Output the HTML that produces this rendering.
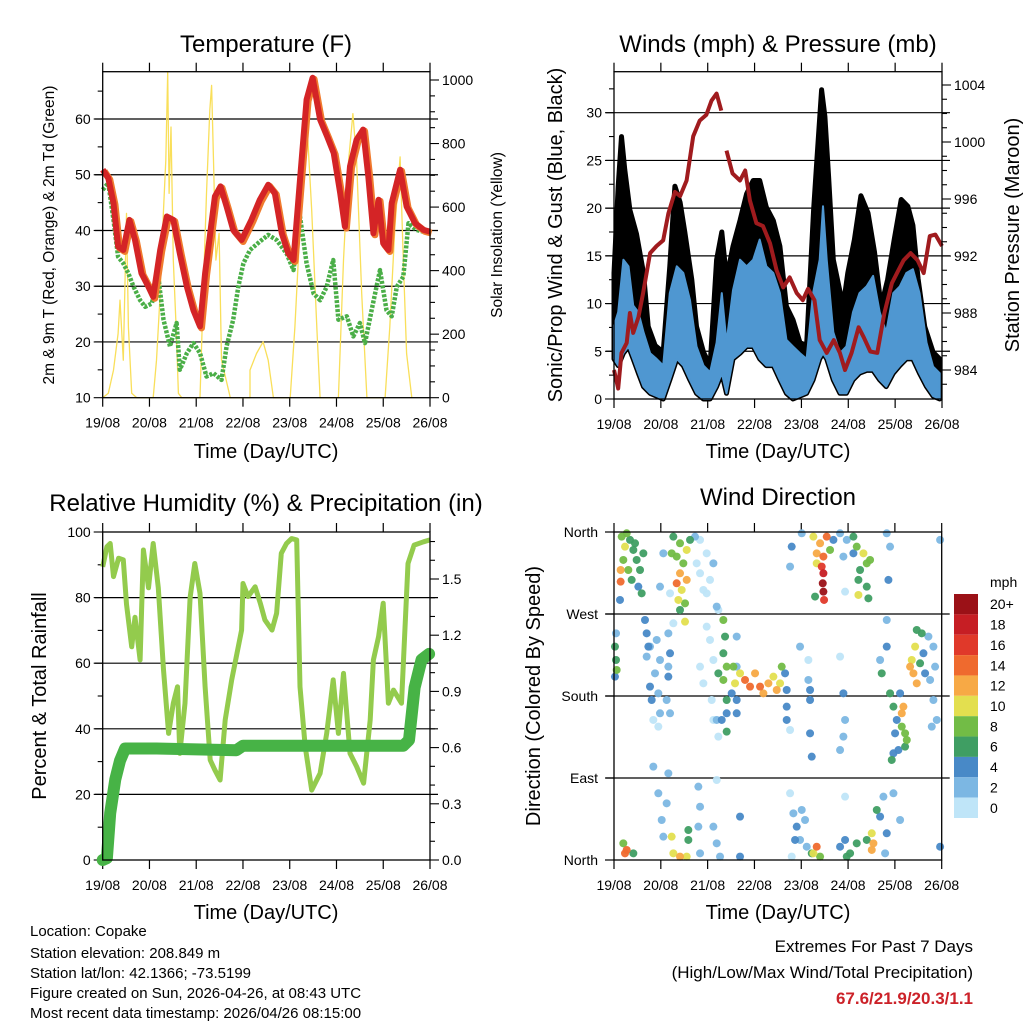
<!DOCTYPE html>
<html><head><meta charset="utf-8"><style>
html,body{margin:0;padding:0;background:#fff;}
svg{display:block;font-family:"Liberation Sans",Arial,sans-serif;}
</style></head><body>
<svg id="s" width="1024" height="1024" viewBox="0 0 1024 1024" xmlns="http://www.w3.org/2000/svg">
<rect width="1024" height="1024" fill="#fff"/>
<text x="266" y="52" font-size="24" text-anchor="middle">Temperature (F)</text>
<text x="778" y="52" font-size="24" text-anchor="middle">Winds (mph) &amp; Pressure (mb)</text>
<text x="266" y="511" font-size="24" text-anchor="middle">Relative Humidity (%) &amp; Precipitation (in)</text>
<text x="778" y="505" font-size="24" text-anchor="middle">Wind Direction</text>
<text transform="translate(54,235) rotate(-90)" font-size="15.5" text-anchor="middle">2m &amp; 9m T (Red, Orange) &amp; 2m Td (Green)</text>
<text transform="translate(502,235) rotate(-90)" font-size="15.5" text-anchor="middle">Solar Insolation (Yellow)</text>
<text transform="translate(562,235) rotate(-90)" font-size="20" text-anchor="middle">Sonic/Prop Wind &amp; Gust (Blue, Black)</text>
<text transform="translate(1019,235) rotate(-90)" font-size="20" text-anchor="middle">Station Pressure (Maroon)</text>
<text transform="translate(46,696) rotate(-90)" font-size="20" text-anchor="middle">Percent &amp; Total Rainfall</text>
<text transform="translate(540,696) rotate(-90)" font-size="20" text-anchor="middle">Direction (Colored By Speed)</text>
<text x="266" y="458" font-size="20" text-anchor="middle">Time (Day/UTC)</text>
<text x="778" y="458" font-size="20" text-anchor="middle">Time (Day/UTC)</text>
<text x="266" y="919" font-size="20" text-anchor="middle">Time (Day/UTC)</text>
<text x="778" y="919" font-size="20" text-anchor="middle">Time (Day/UTC)</text>
<g font-size="15">
<text x="30" y="936">Location: Copake</text>
<text x="30" y="958">Station elevation: 208.849 m</text>
<text x="30" y="978">Station lat/lon: 42.1366; -73.5199</text>
<text x="30" y="998">Figure created on Sun, 2026-04-26, at 08:43 UTC</text>
<text x="30" y="1018">Most recent data timestamp: 2026/04/26 08:15:00</text>
</g>
<g text-anchor="end">
<text x="973" y="952" font-size="17">Extremes For Past 7 Days</text>
<text x="973" y="978" font-size="17">(High/Low/Max Wind/Total Precipitation)</text>
<text x="973" y="1004" font-size="17" font-weight="bold" fill="#cc2229">67.6/21.9/20.3/1.1</text>
</g>
</svg>
<script>
// ---------- data ----------
const dayLabels=["19/08","20/08","21/08","22/08","23/08","24/08","25/08","26/08"];
const tempT=[0,0.12,0.23,0.33,0.44,0.57,0.69,0.83,0.98,1.08,1.23,1.37,1.51,1.65,1.8,1.94,2.08,2.19,2.4,2.52,2.65,2.79,2.97,3.18,3.36,3.54,3.68,3.83,3.97,4.08,4.22,4.36,4.49,4.65,4.8,4.94,5.08,5.18,5.29,5.43,5.57,5.68,5.79,5.9,6.0,6.11,6.18,6.36,6.5,6.68,6.86,7.0];
const tempV=[50.9,49.4,44.9,37.1,36.5,41.9,38.3,32.3,29.9,28.1,36.5,42.5,41.9,35.9,29.9,25.7,22.8,32.3,46.1,47.9,44.3,40.1,38.3,41.9,45.5,48.2,46.7,39.5,35.9,34.7,49.1,63.5,67.4,59.9,56.9,53.9,46.7,40.7,51.5,56.3,58.1,49.7,39.5,45.5,37.7,36.5,44.9,50.9,44.3,41.3,40.1,39.8];
const tdT=[0,0.12,0.23,0.33,0.44,0.55,0.66,0.8,0.91,1.05,1.19,1.3,1.44,1.58,1.65,1.8,1.94,2.08,2.22,2.37,2.54,2.65,2.79,2.9,3.01,3.15,3.36,3.54,3.72,3.93,4.08,4.22,4.36,4.51,4.65,4.79,4.93,5.04,5.22,5.36,5.5,5.61,5.75,5.93,6.07,6.18,6.29,6.43,6.54,6.71,7.0];
const tdV=[47.3,48.5,41.9,35.3,34.1,32.3,29.9,27.5,26.3,26.9,31.7,24.0,19.2,23.4,15.0,18.0,19.8,18.0,13.8,14.4,13.2,19.2,24.0,29.9,34.1,36.5,38.0,39.2,38.3,35.9,32.9,42.5,34.1,28.7,27.5,29.9,34.7,24.0,24.6,21.0,23.4,19.8,25.7,32.9,25.7,24.6,29.9,31.7,41.3,40.1,39.5];
const solarT=[0,0.12,0.23,0.33,0.37,0.44,0.51,0.55,0.62,0.73,1.08,1.15,1.23,1.3,1.35,1.39,1.42,1.46,1.51,1.57,1.62,1.69,2.08,2.15,2.22,2.29,2.33,2.37,2.42,2.49,2.54,2.73,3.15,3.15,3.29,3.43,3.54,3.65,4.01,4.11,4.22,4.36,4.47,4.58,4.65,5.04,5.15,5.26,5.35,5.43,5.54,5.65,6.04,6.14,6.25,6.36,6.43,6.5,6.61];
const solarV=[0,14,87,202,307,118,580,223,14,0,0,118,328,590,747,1025,643,852,433,223,14,0,0,328,643,905,983,747,433,517,118,0,0,87,139,176,118,0,0,223,538,884,590,223,0,0,433,747,894,747,328,0,0,223,538,758,433,139,0];
const presT=[0,0.09,0.16,0.27,0.34,0.41,0.52,0.62,0.77,0.91,1.05,1.16,1.3,1.41,1.55,1.69,1.83,1.97,2.08,2.19,2.29];
const presV=[984,982.7,985.2,985.9,988.0,986.6,987.7,989.4,992.2,992.7,993.1,995.0,996.5,996.2,997.3,1000.4,1001.5,1001.9,1002.9,1003.4,1002.2];
const pres2T=[2.4,2.53,2.69,2.8,2.9,3.04,3.18,3.33,3.47,3.61,3.75,3.9,4.03,4.14,4.28,4.39,4.54,4.69,4.82,4.93,5.07,5.22,5.33,5.47,5.62,5.77,5.93,6.07,6.18,6.33,6.48,6.61,6.74,6.86,7.0];
const pres2V=[999.4,997.8,997.3,998.0,995.9,994.3,994.1,992.9,991.0,989.8,990.5,989.4,988.9,989.7,988.9,986.1,985.2,986.1,985.2,984.0,985.2,987.0,986.3,985.3,985.2,988.0,990.1,991.0,991.7,992.2,991.7,990.8,993.4,993.5,992.7];
const windT=[0,0.09,0.2,0.31,0.41,0.52,0.63,0.77,0.91,1.05,1.19,1.34,1.48,1.62,1.76,1.91,2.05,2.19,2.3,2.4,2.54,2.69,2.83,2.97,3.11,3.25,3.4,3.54,3.68,3.82,3.97,4.11,4.25,4.39,4.46,4.54,4.68,4.82,4.96,5.1,5.24,5.39,5.53,5.67,5.81,5.96,6.1,6.24,6.38,6.52,6.67,6.81,6.95];
const windHi=[7.7,9.1,14.6,13.9,9.8,9.1,7.0,4.8,4.2,3.5,11.1,13.9,13.2,10.4,5.5,3.5,2.8,5.9,11.1,5.9,11.4,14.6,13.9,14.6,16.7,13.9,13.2,11.1,6.2,5.5,4.8,4.2,11.1,14.6,20.2,14.6,7.0,4.8,5.5,9.1,11.1,11.8,12.9,9.1,7.0,11.1,11.8,13.2,13.6,11.1,5.9,3.4,2.7];
const windLo=[4.2,3.5,4.8,5.5,4.2,2.7,1.3,0.6,0.3,0,2.0,4.2,3.5,2.0,0.6,0,0,1.3,2.7,0.6,4.2,4.8,5.5,5.5,4.2,3.5,3.5,2.0,0.6,0,0.3,0.6,2.0,4.2,4.8,4.2,2.0,0.6,0.6,2.0,2.7,3.0,3.0,2.0,1.3,2.7,3.5,4.2,4.2,2.7,1.3,0.3,0];
const gustT=[0,0.09,0.16,0.23,0.34,0.48,0.63,0.73,0.88,1.05,1.19,1.3,1.41,1.51,1.66,1.76,1.91,2.05,2.19,2.3,2.4,2.54,2.69,2.83,2.97,3.11,3.25,3.4,3.54,3.68,3.82,3.97,4.11,4.26,4.33,4.43,4.5,4.58,4.68,4.89,4.99,5.13,5.27,5.42,5.56,5.7,5.84,5.98,6.13,6.27,6.38,6.49,6.63,6.81,6.95];
const gustV=[13.2,22.3,27.5,24.0,19.8,17.3,13.2,7.6,5.6,4.9,13.9,22.3,20.6,17.5,12.5,7.6,4.9,3.5,14.6,17.5,12.6,16.0,18.7,21.5,22.9,22.9,20.1,18.7,16.0,9.7,8.3,5.9,5.6,19.8,25.1,32.4,29.6,23.3,14.6,9.7,13.2,16.7,21.3,19.5,15.4,9.7,12.5,16.7,20.9,20.2,18.2,12.6,7.6,4.9,4.2];
const rhT=[0,0.09,0.16,0.23,0.34,0.44,0.51,0.62,0.69,0.8,0.87,0.98,1.08,1.19,1.3,1.41,1.51,1.6,1.65,1.76,1.87,1.97,2.08,2.19,2.3,2.4,2.51,2.62,2.76,2.97,3.0,3.11,3.26,3.37,3.47,3.62,3.72,3.82,3.93,4.04,4.15,4.22,4.33,4.47,4.65,4.79,4.93,5.04,5.15,5.29,5.43,5.58,5.72,5.79,5.9,6.0,6.11,6.22,6.39,6.53,6.66,6.86,7.0];
const rhV=[89.4,95.5,96.5,86.4,92,91.5,78,65,74,61,94.5,83,96.5,83,58,38.6,47.8,52.8,32.5,47.8,80,90.4,81.3,52.8,30.5,27.4,24.4,42.7,54.9,70.1,84.3,80.3,83.3,78.3,73.2,70.1,75.2,93.5,96.5,98,97.6,52.8,34.6,21.3,26.4,38.6,54.9,38.6,56.9,32.5,28.5,23.4,42.7,61,68.1,78.3,47.8,51.8,47.8,90.4,96,97,97.6];
const rainT=[0,0.09,0.16,0.27,0.37,0.48,1.15,2.86,3.0,6.43,6.55,6.67,6.82,6.98];
const rainV=[0,0.01,0.25,0.43,0.53,0.595,0.595,0.586,0.61,0.61,0.64,0.92,1.07,1.10];
// wind direction observations: day offset, direction (deg), speed (mph) — parallel arrays, one cluster per line
const dirDay=[
0.164,0.235,0.342,0.413,0.484,0.556,0.199,0.306,0.377,0.520,0.591,0.142,0.142,0.128,0.627,0.271,0.449,
1.268,1.410,1.553,1.339,1.481,1.410,1.553,1.339,1.446,1.375,1.517,1.410,1.624,1.232,1.517,
1.838,1.980,2.123,2.051,1.909,2.194,1.766,1.838,1.980,2.229,1.731,1.054,1.197,0.983,
4.259,4.402,4.544,4.330,4.473,4.437,4.473,4.459,4.473,4.487,4.330,4.295,4.615,4.687,4.829,4.972,5.114,5.185,5.328,5.399,5.256,5.470,5.221,5.399,5.434,5.221,5.114,4.900,5.826,5.897,5.862,4.936,3.796,3.761,4.010,6.966,
0.021,0.043,0.057,0.021,0.043,
0.662,0.698,0.734,0.698,0.769,0.805,0.769,0.912,0.983,0.876,0.947,0.983,0.840,0.947,1.161,1.197,1.161,1.125,1.197,1.161,1.268,
1.980,2.051,1.838,1.909,2.123,2.087,2.123,2.229,2.194,
2.229,2.336,2.407,2.336,2.372,2.336,2.550,2.585,2.514,2.692,2.799,2.906,3.013,3.120,3.191,3.298,3.405,3.476,3.583,3.547,2.407,2.407,2.301,2.407,2.621,2.621,3.654,3.689,3.689,3.689,3.761,2.621,2.621,
3.974,4.152,4.188,4.188,4.152,4.188,4.224,4.829,4.900,4.936,4.900,4.829,5.684,5.719,5.826,5.826,
5.897,5.969,6.040,6.147,6.218,6.254,6.004,5.969,6.075,6.182,6.147,5.933,6.218,6.111,
6.360,6.396,6.432,6.467,6.325,6.538,6.610,6.645,6.574,6.467,6.752,6.823,6.895,6.788,6.859,6.823,6.716,
0.235,0.271,0.413,0.199,1.268,1.232,1.410,1.588,1.588,1.553,0.840,0.947,1.019,1.125,1.054,1.161,1.802,1.838,1.802,1.838,2.123,2.194,2.265,2.194,2.692,2.692,3.761,3.832,3.903,3.974,4.010,4.081,4.117,3.868,4.330,4.259,4.402,4.224,4.829,4.936,5.043,5.185,4.972,5.399,5.506,5.541,5.506,5.613,5.684,5.755,5.826,5.791,5.969,6.111,6.966,4.936,3.796];
const dirDeg=[
354.9,343.9,351.3,340.3,329.3,318.3,329.3,318.3,307.4,300.0,292.7,318.3,305.5,285.4,336.6,358.6,347.6,
354.9,347.6,340.3,333.0,325.6,314.7,307.4,303.7,296.4,285.4,281.7,274.4,351.3,336.6,261.6,
351.3,336.6,325.6,307.4,296.4,278.1,325.6,314.7,292.7,274.4,354.9,336.6,292.7,300.0,
354.9,347.6,354.9,336.6,333.0,322.0,314.7,303.7,294.5,285.4,325.6,289.1,340.3,351.3,358.6,351.3,354.9,343.9,336.6,325.6,318.3,329.3,307.4,300.0,287.2,290.9,336.6,333.0,358.6,343.9,307.4,294.5,343.9,322.0,358.6,351.3,
234.2,219.5,208.6,201.2,248.8,
263.4,248.8,234.2,223.2,190.3,175.6,234.2,241.5,219.5,204.9,182.9,161.0,153.7,146.4,248.8,226.9,212.2,175.6,161.0,201.2,259.8,
256.1,241.5,212.2,193.9,219.5,175.6,153.7,135.4,153.7,
204.9,197.6,212.2,263.4,245.2,226.9,212.2,193.9,182.9,204.9,197.6,190.3,204.9,190.3,182.9,193.9,201.2,186.6,212.2,193.9,175.6,161.0,153.7,140.9,175.6,161.0,204.9,186.6,168.3,153.7,142.7,245.2,212.2,
234.2,219.5,186.6,175.6,197.6,139.0,113.4,223.2,182.9,153.7,135.4,120.7,219.5,204.9,234.2,263.4,
182.9,168.3,153.7,146.4,139.0,131.7,139.0,117.1,120.7,168.3,161.0,109.8,124.4,182.9,
219.5,204.9,234.2,193.9,212.2,215.9,226.9,204.9,248.8,252.5,197.6,175.6,153.7,146.4,212.2,234.2,245.2,
7.3,11.0,7.3,18.3,7.3,25.6,3.7,22.0,32.9,3.7,102.5,73.2,43.9,62.2,25.6,95.1,80.5,58.5,36.6,7.3,36.6,18.3,3.7,87.8,47.6,3.7,73.2,51.2,36.6,22.0,54.9,43.9,14.6,22.0,14.6,7.3,3.7,7.3,14.6,22.0,7.3,18.3,3.7,22.0,29.3,18.3,11.0,54.9,47.6,69.5,29.3,7.3,73.2,43.9,14.6,69.5,3.7];
const dirSpd=[
9,10,7,7,6,7,9,8,7,5,6,12,14,4,7,8,6,
7,9,10,9,8,12,13,14,11,10,8,7,7,8,10,
1,1,2,1,1,2,1,1,0,0,3,2,0,3,
10,12,15,12,15,16,18,20,21,17,10,6,8,4,3,3,6,8,11,9,7,8,7,6,6,10,5,3,3,3,4,0,4,3,2,3,
6,7,8,4,3,
4,4,4,3,4,4,3,2,2,3,2,2,1,1,2,4,3,2,2,5,1,
0,1,1,1,1,1,1,0,2,
7,8,9,8,6,7,9,10,5,11,14,15,13,14,12,13,10,12,8,10,6,5,5,6,4,4,4,4,4,4,1,3,2,
2,1,4,4,3,4,4,1,4,3,3,3,2,6,4,3,
6,6,5,8,9,8,4,5,4,12,13,6,6,4,
11,12,11,12,13,7,5,5,6,7,3,2,2,2,2,3,3,
15,14,7,9,11,11,12,7,6,10,2,3,3,2,3,2,3,3,2,3,2,2,3,1,4,4,1,3,4,3,3,3,3,5,14,10,8,7,4,4,7,7,6,7,11,13,12,7,5,3,4,3,2,2,4,1,0];
const cbLabels=["20+","18","16","14","12","10","8","6","4","2","0"];
const cbColors=["#9b1117","#c61e24","#e0392a","#ef6a2e","#f7a945","#e3df4f","#72bc46","#3f9e63","#4889c7","#7cb7e3","#bfe5f8"];

// ---------- helpers ----------
const NS="http://www.w3.org/2000/svg";
const svg=document.getElementById('s');
function mk(tag,attrs,parent){const e=document.createElementNS(NS,tag);for(const k in attrs)e.setAttribute(k,attrs[k]);(parent||svg).appendChild(e);return e;}
function lin(d0,d1,r0,r1){return v=>r0+(v-d0)*(r1-r0)/(d1-d0);}
function pathFrom(ts,vs,xs,ys){let d='';for(let i=0;i<ts.length;i++){d+=(i?'L':'M')+xs(ts[i]).toFixed(1)+','+ys(vs[i]).toFixed(1);}return d;}

function frame(name,x0,x1,y0,y1,grid){
  const g=mk('g',{});
  
  
  const xs=lin(0,7,x0,x1);
  grid.forEach(y=>{const l=mk('line',{x1:x0-8,x2:x1+8,y1:y,y2:y,stroke:'#000','stroke-width':1.2},g);
    
    });
  for(let d=0;d<=7;d++){const X=xs(d);
    mk('line',{x1:X,x2:X,y1:y0,y2:y0-9,stroke:'#000','stroke-width':1.2},g);
    mk('line',{x1:X,x2:X,y1:y1,y2:y1+9,stroke:'#000','stroke-width':1.2},g);
    const t=mk('text',{x:X,y:y1+30,'font-size':14,'text-anchor':'middle'},g);t.textContent=dayLabels[d];
    
    }
  return {g,xs};
}
function border(x0,x1,y0,y1,name){const r=mk('rect',{x:x0,y:y0,width:x1-x0,height:y1-y0,fill:'none',stroke:'#000','stroke-width':1.3});
  
  }
function yAxis(g,side,X,ys,lo,hi,major,minor,fmt,fs){
  const dir=side==='l'?-1:1;
  for(let v=lo;v<=hi+1e-9;v+=minor){const Y=ys(v);const isMaj=Math.abs(v/major-Math.round(v/major))<1e-6;
    mk('line',{x1:X,x2:X+dir*(isMaj?9:5),y1:Y,y2:Y,stroke:'#000','stroke-width':1.1},g);
    if(isMaj&&fmt){const t=mk('text',{x:X+dir*12,y:Y+5,'font-size':fs||14,'text-anchor':side==='l'?'end':'start'},g);t.textContent=fmt(v);
      
      }}
}

// ---------- Panel 1: Temperature ----------
(function(){
  const x0=102.7,x1=430,y0=71.7,y1=397.7;
  const yT=lin(10,60,397.7,119),yS=lin(0,1000,397.7,80);
  const {g,xs}=frame('temperature',x0,x1,y0,y1,[20,30,40,50,60].map(yT));
  yAxis(g,'l',x0,yT,10,65,10,5,v=>String(v));
  yAxis(g,'r',x1,yS,0,1000,200,50,v=>String(v));
  const s=mk('path',{d:pathFrom(solarT,solarV,xs,yS),fill:'none',stroke:'#f9df5a','stroke-width':1.3,'stroke-linejoin':'round'});
  
  
  const td=mk('path',{d:pathFrom(tdT,tdV,xs,yT),fill:'none',stroke:'#4aae47','stroke-width':4.5,'stroke-dasharray':'3 1.5','stroke-linejoin':'round'});
  
  
  const o=mk('path',{d:pathFrom(tempT,tempV,xs,yT),fill:'none',stroke:'#f07b2e','stroke-width':7,'stroke-linejoin':'round',transform:'translate(1.5,1.5)'});
  
  
  const r=mk('path',{d:pathFrom(tempT,tempV,xs,yT),fill:'none',stroke:'#d42426','stroke-width':6,'stroke-linejoin':'round'});
  
  
  border(x0,x1,y0,y1,'temperature');
})();

// ---------- Panel 2: Winds & Pressure ----------
(function(){
  const x0=614,x1=942,y0=71.7,y1=399;
  const yW=lin(0,30,399,112.7),yP=lin(984,1004,370,85);
  const {g,xs}=frame('winds',x0,x1,y0,y1,[5,10,15,20,25,30].map(yW));
  yAxis(g,'l',x0,yW,0,32.5,5,2.5,v=>String(v));
  yAxis(g,'r',x1,yP,983,1004,4,1,v=>(v%4===0?String(v):''));
  let d='';for(let i=0;i<gustT.length;i++)d+=(i?'L':'M')+xs(gustT[i]).toFixed(1)+','+yW(gustV[i]).toFixed(1);
  for(let i=windT.length-1;i>=0;i--)d+='L'+xs(windT[i]).toFixed(1)+','+yW(windLo[i]).toFixed(1);
  const gp=mk('path',{d:d+'Z',fill:'#000',stroke:'#000','stroke-width':5,'stroke-linejoin':'round'});
  
  
  let d2='';for(let i=0;i<windT.length;i++)d2+=(i?'L':'M')+xs(windT[i]).toFixed(1)+','+yW(windHi[i]).toFixed(1);
  for(let i=windT.length-1;i>=0;i--)d2+='L'+xs(windT[i]).toFixed(1)+','+yW(windLo[i]).toFixed(1);
  const wp=mk('path',{d:d2+'Z',fill:'#4f97d1',stroke:'#4f97d1','stroke-width':2,'stroke-linejoin':'round'});
  
  
  const p1=mk('path',{d:pathFrom(presT,presV,xs,yP),fill:'none',stroke:'#a01b1e','stroke-width':4,'stroke-linejoin':'round'});
  
  
  const p2=mk('path',{d:pathFrom(pres2T,pres2V,xs,yP),fill:'none',stroke:'#a01b1e','stroke-width':4,'stroke-linejoin':'round'});
  
  
  border(x0,x1,y0,y1,'winds');
})();

// ---------- Panel 3: RH & Precip ----------
(function(){
  const x0=102.7,x1=430,y0=532,y1=860;
  const yH=lin(0,100,860,532),yR=lin(0,1.5,860,579);
  const {g,xs}=frame('humidity',x0,x1,y0,y1,[20,40,60,80].map(yH));
  yAxis(g,'l',x0,yH,0,100,20,10,v=>String(v));
  yAxis(g,'r',x1,yR,0,1.75,0.3,0.1,v=>v.toFixed(1));
  const h=mk('path',{d:pathFrom(rhT,rhV,xs,yH),fill:'none',stroke:'#93cb4d','stroke-width':5,'stroke-linejoin':'round'});
  
  
  const r=mk('path',{d:pathFrom(rainT,rainV,xs,yR),fill:'none',stroke:'#47b346','stroke-width':12,'stroke-linejoin':'round','stroke-linecap':'round'});
  
  
  border(x0,x1,y0,y1,'humidity');
})();

// ---------- Panel 4: Wind direction ----------
(function(){
  const x0=614,x1=941.7,y0=532,y1=860;
  const yD=lin(0,360,860,532);
  const {g,xs}=frame('direction',x0,x1,y0,y1,[270,180,90].map(yD));
  [['North',360],['West',270],['South',180],['East',90],['North',0]].forEach(([n,v])=>{
    mk('line',{x1:x0,x2:x0-9,y1:yD(v),y2:yD(v),stroke:'#000','stroke-width':1.2},g);
    const t=mk('text',{x:x0-16,y:yD(v)+5,'font-size':14,'text-anchor':'end'},g);t.textContent=n;
    
    });
  const n=Math.min(dirDay.length,dirDeg.length,dirSpd.length);
  const order=[];for(let i=0;i<n;i++)order.push(i);
  order.sort((a,b)=>dirSpd[a]-dirSpd[b]);
  order.forEach(i=>{
    const ci=Math.max(0,Math.min(10,10-Math.floor(dirSpd[i]/2)));
    const c=mk('circle',{cx:xs(dirDay[i]),cy:yD(dirDeg[i]),r:4,fill:cbColors[ci],'fill-opacity':0.95});
    
    
  });
  border(x0,x1,y0,y1,'direction');
  const cg=mk('g',{});
  
  
  const t=mk('text',{x:990,y:587,'font-size':14},cg);t.textContent='mph';
  
  
  const h=(818-594)/11;
  cbLabels.forEach((lab,i)=>{
    const r=mk('rect',{x:954,y:594+i*h,width:24,height:h,fill:cbColors[i]},cg);
    
    
    const tt=mk('text',{x:990,y:594+i*h+h/2+5,'font-size':14},cg);tt.textContent=lab;
    
    
  });
})();
</script>
</body></html>
